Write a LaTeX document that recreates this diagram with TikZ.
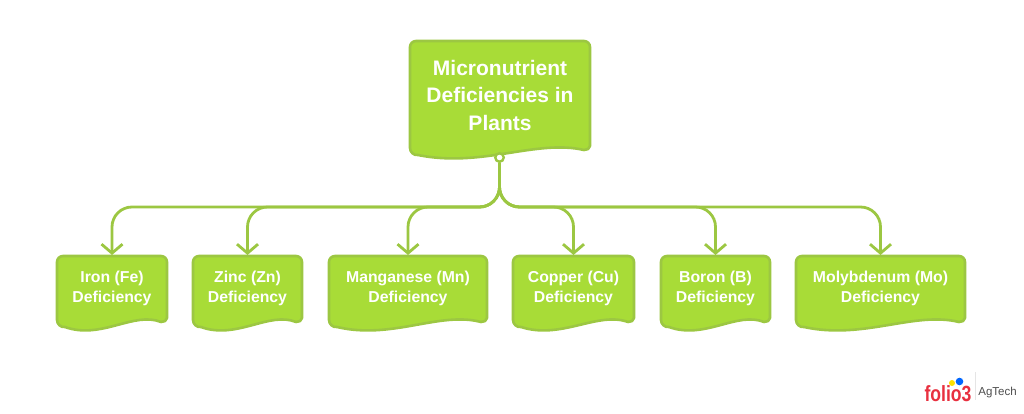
\documentclass[tikz,border=0pt]{standalone}
\usepackage{fontspec}
\setmainfont{Liberation Sans}
\usetikzlibrary{arrows.meta,calc}
\definecolor{leaf}{HTML}{A8DC37}
\definecolor{edge}{HTML}{9CC742}
\definecolor{logored}{HTML}{E8303F}
\tikzset{
  docshape/.style={draw=edge,fill=leaf,line width=2.6pt,line join=round},
  doctext/.style={inner sep=0pt,align=center,text=white,font=\bfseries\fontsize{15.8}{20}\selectfont},
  bigtext/.style={inner sep=0pt,align=center,text=white,font=\bfseries\fontsize{21}{27.7}\selectfont},
  link/.style={draw=edge,line width=2.8pt,rounded corners=20pt},
  arrowlink/.style={link,-{Straight Barb[length=9pt,width=21pt,line width=2.8pt]}},
}
% name, L, R, T, B, text centre y, style, text
\newcommand{\docbox}[8]{%
  \pgfmathsetmacro{\myboxw}{#3-#2}
  \draw[docshape] ({#2+6},#4) -- ({#3-6},#4) to[out=0,in=90] (#3,{#4+6}) -- (#3,{#5-12})
    to[out=-90,in=0] ({#3-6},{#5-8})
    .. controls ({#3-0.3*\myboxw},{#5-19}) and ({#2+0.4*\myboxw},{#5+10}) .. ({#2+8},{#5-3})
    to[out=190,in=-90] (#2,{#5-10}) -- (#2,{#4+6}) to[out=90,in=180] ({#2+6},#4) -- cycle;
  \pgfmathsetmacro{\myboxc}{(#2+#3)/2}
  \pgfmathsetmacro{\myboxh}{2*(#6-#4)}
  \node[#7,minimum height=\myboxh pt,anchor=north] (#1) at (\myboxc,#4) {#8};
}
\begin{document}
\begin{tikzpicture}[x=1pt,y=-1pt]
\useasboundingbox (0,0) rectangle (1024,414);
\docbox{root}{410}{590}{41}{158}{95}{bigtext}{Micronutrient\\Deficiencies in\\Plants}
\docbox{iron}{57}{167}{256}{330}{288}{doctext}{Iron (Fe)\\Deficiency}
\docbox{zinc}{193}{302}{256}{330}{288}{doctext}{Zinc (Zn)\\Deficiency}
\docbox{mang}{329}{487}{256}{330}{288}{doctext}{Manganese (Mn)\\Deficiency}
\docbox{copper}{513}{634}{256}{330}{288}{doctext}{Copper (Cu)\\Deficiency}
\docbox{boron}{661}{770}{256}{330}{288}{doctext}{Boron (B)\\Deficiency}
\docbox{moly}{796}{965}{256}{330}{288}{doctext}{Molybdenum (Mo)\\Deficiency}
\coordinate (bus) at (499.5,207);
\node[circle,draw=edge,fill=white,line width=2.4pt,minimum size=8.5pt,inner sep=0pt] (dot) at (499.5,157.5) {};
\foreach \c in {iron,zinc,mang,copper,boron,moly}{
  \draw[arrowlink] (dot.south) -- (bus) -| ($(\c.north)+(0,-1)$);
}
% logo
\node[inner sep=0pt,text=logored,font=\bfseries\fontsize{22}{22}\selectfont] (folio) at (948,393.5) {\scalebox{0.8}[1]{folio3}};
\fill[fill=yellow!85!orange] (952,383) circle (3);
\fill[fill=blue!60!cyan] (959.5,381.5) circle (3.8);
\draw[black!10,line width=.5pt] (975,372) -- (975,400);
\node[inner sep=0pt,text=black!70,font=\fontsize{11.5}{12}\selectfont] (agtech) at (997.5,393) {AgTech};
\end{tikzpicture}
\end{document}
